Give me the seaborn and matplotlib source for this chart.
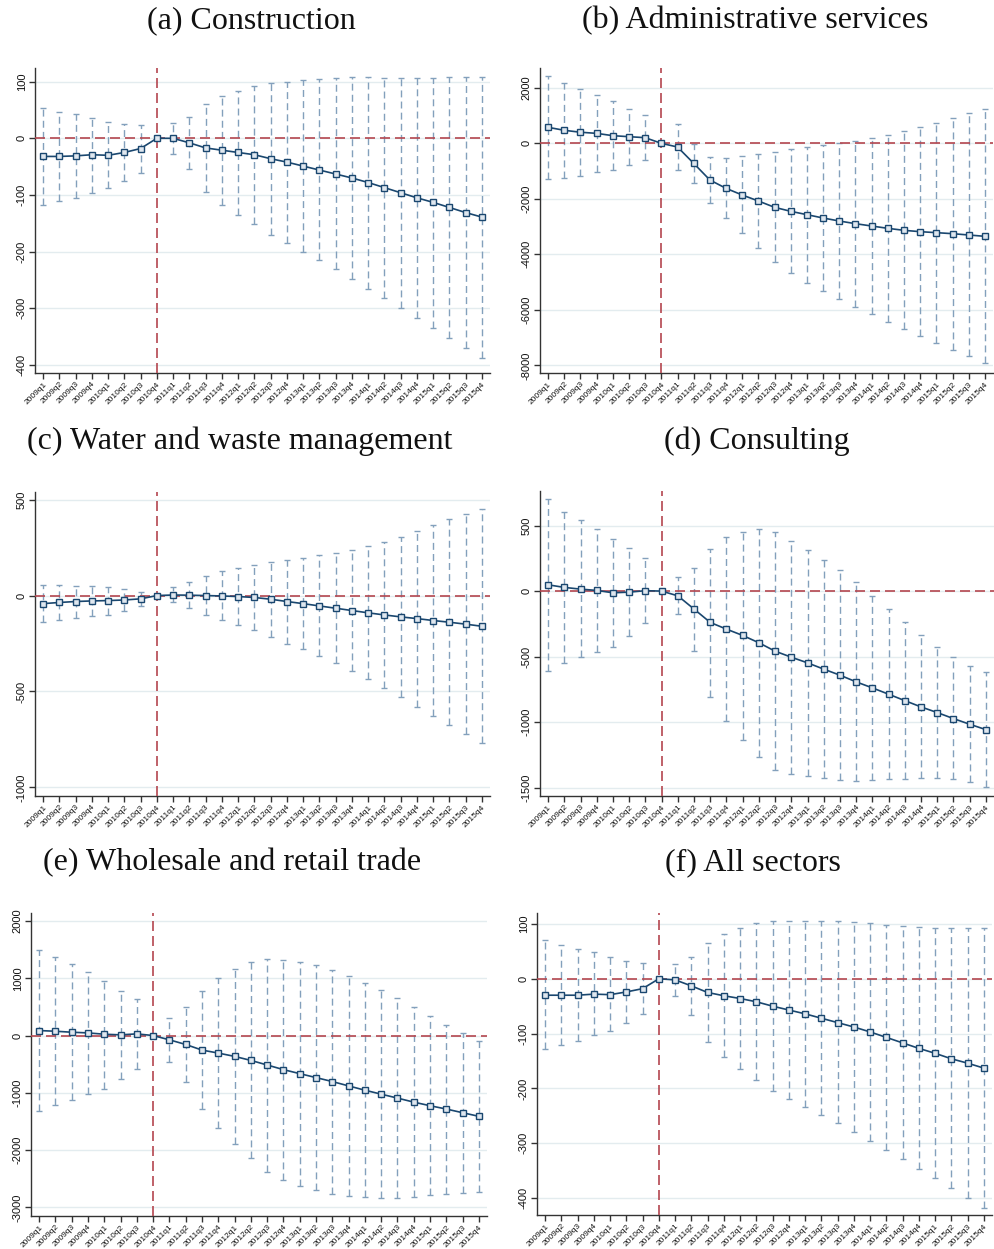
import numpy as np
import pandas as pd
import matplotlib
matplotlib.use("Agg")
import matplotlib.pyplot as plt
import seaborn as sns

quarters = [f"{y}q{q}" for y in range(2009, 2016) for q in range(1, 5)]

# (a) Construction
a_est = [-32, -32, -31, -29, -30, -25, -18, 0, 0, -8, -17, -21, -25, -29, -36, -42, -49, -56, -63, -70, -78, -87, -96, -105, -113, -122, -131, -139]
a_hi = [53, 47, 42, 36, 29, 25, 24, np.nan, 27, 38, 60, 75, 84, 93, 98, 100, 102, 104, 106, 108, 108, 107, 107, 107, 107, 108, 108, 109]
a_lo = [-118, -111, -105, -96, -88, -75, -61, np.nan, -27, -55, -94, -118, -135, -152, -170, -185, -200, -214, -231, -248, -265, -282, -300, -317, -334, -352, -370, -387]

# (b) Administrative services
b_est = [577, 470, 400, 360, 276, 240, 204, 0, -132, -721, -1321, -1622, -1862, -2078, -2306, -2450, -2570, -2691, -2799, -2895, -2979, -3063, -3135, -3183, -3219, -3255, -3303, -3351]
b_hi = [2415, 2175, 1970, 1754, 1513, 1237, 1009, np.nan, 697, -10, -480, -540, -468, -396, -324, -216, -132, -60, 12, 96, 192, 312, 444, 577, 745, 913, 1081, 1237]
b_lo = [-1273, -1237, -1177, -1033, -961, -769, -589, np.nan, -949, -1417, -2150, -2703, -3243, -3784, -4288, -4673, -5021, -5321, -5622, -5898, -6162, -6438, -6703, -6943, -7183, -7435, -7675, -7928]

# (c) Water and waste management
c_est = [-42, -36, -31, -28, -26, -23, -17, 0, 3, 2, 0, -2, -5, -10, -19, -31, -42, -54, -66, -78, -90, -101, -111, -120, -130, -139, -149, -160]
c_hi = [56, 54, 52, 49, 45, 36, 21, np.nan, 45, 69, 102, 127, 144, 160, 177, 188, 198, 210, 224, 238, 257, 281, 306, 339, 368, 398, 425, 451]
c_lo = [-137, -125, -116, -106, -102, -82, -56, np.nan, -36, -64, -102, -125, -153, -181, -215, -250, -281, -316, -354, -394, -436, -481, -530, -580, -627, -677, -724, -771]

# (d) Consulting
d_est = [48, 28, 15, 5, -13, -8, 3, 0, -36, -137, -239, -290, -338, -394, -458, -504, -547, -595, -641, -692, -738, -786, -835, -883, -926, -972, -1015, -1056]
d_hi = [702, 603, 539, 471, 399, 331, 252, np.nan, 107, 178, 323, 410, 450, 476, 450, 384, 316, 239, 158, 66, -36, -135, -234, -333, -425, -506, -570, -618]
d_lo = [-606, -550, -504, -461, -425, -346, -247, np.nan, -178, -455, -804, -990, -1132, -1262, -1364, -1394, -1412, -1427, -1440, -1448, -1438, -1433, -1433, -1425, -1425, -1435, -1458, -1496]

# (e) Wholesale and retail trade
e_est = [87, 75, 58, 46, 23, 12, 29, 0, -75, -156, -254, -306, -364, -434, -514, -595, -665, -734, -803, -879, -954, -1023, -1092, -1162, -1225, -1283, -1347, -1410]
e_hi = [1497, 1364, 1249, 1110, 960, 786, 642, np.nan, 312, 503, 786, 1000, 1162, 1289, 1341, 1324, 1289, 1225, 1145, 1040, 919, 798, 653, 503, 341, 191, 52, -92]
e_lo = [-1312, -1220, -1121, -1017, -925, -757, -584, np.nan, -457, -815, -1289, -1618, -1896, -2145, -2376, -2514, -2618, -2699, -2763, -2798, -2821, -2838, -2844, -2827, -2786, -2763, -2746, -2723]

# (f) All sectors
f_est = [-30, -30, -30, -28, -29, -24, -18, 0, -2, -13, -25, -31, -36, -42, -50, -57, -64, -72, -80, -88, -97, -107, -117, -127, -136, -146, -154, -163]
f_hi = [70, 62, 54, 48, 39, 32, 29, np.nan, 27, 40, 66, 82, 92, 101, 105, 105, 105, 105, 105, 103, 101, 98, 96, 94, 92, 92, 92, 92]
f_lo = [-128, -121, -113, -103, -95, -80, -64, np.nan, -31, -66, -115, -143, -164, -185, -205, -219, -234, -248, -264, -280, -296, -313, -329, -347, -364, -382, -400, -418]

titles = ["(a) Construction", "(b) Administrative services", "(c) Water and waste management",
          "(d) Consulting", "(e) Wholesale and retail trade", "(f) All sectors"]
yticks_list = [[-400, -300, -200, -100, 0, 100],
               [-8000, -6000, -4000, -2000, 0, 2000],
               [-1000, -500, 0, 500],
               [-1500, -1000, -500, 0, 500],
               [-3000, -2000, -1000, 0, 1000, 2000],
               [-400, -300, -200, -100, 0, 100]]
ylims = [(-414, 124), (-8276, 2715), (-1045, 540), (-1562, 763), (-3150, 2139), (-431, 120)]

series = [(a_est, a_lo, a_hi), (b_est, b_lo, b_hi), (c_est, c_lo, c_hi),
          (d_est, d_lo, d_hi), (e_est, e_lo, e_hi), (f_est, f_lo, f_hi)]

# axes boxes in pixels: left, right, top, bottom
boxes = [(35, 490, 68, 373), (540, 993, 68, 373),
         (35, 490, 492, 796), (540, 994, 491, 796),
         (31, 487, 913, 1216), (537, 992, 913, 1215)]
title_pos = [(251, 21), (755, 21), (240, 441), (757, 441), (232, 863), (753, 863)]

W, H = 995, 1249
sns.set_theme(style="white")
plt.rcParams["font.family"] = ["Liberation Sans", "DejaVu Sans"]

fig = plt.figure(figsize=(W / 100, H / 100), dpi=100)
navy = "#1a476f"
ci_col = "#83a0bc"
red = "#b4464f"
grid_col = "#e3ecef"

for i, (est, lo, hi) in enumerate(series):
    l, r, t, b = boxes[i]
    ax = fig.add_axes([l / W, 1 - b / H, (r - l) / W, (b - t) / H])
    df = pd.DataFrame({"pos": np.arange(len(quarters)), "quarter": quarters,
                       "est": est, "lo": lo, "hi": hi})
    ax.set_ylim(*ylims[i])
    ax.set_xlim(-0.5, 27.5)
    ax.set_yticks(yticks_list[i])
    for yv in yticks_list[i]:
        ax.axhline(yv, color=grid_col, lw=1, zorder=0)
    ci = df.dropna()
    eb = ax.errorbar(ci["pos"], ci["est"], yerr=[ci["est"] - ci["lo"], ci["hi"] - ci["est"]],
                     fmt="none", ecolor=ci_col, elinewidth=1.0, capsize=2.5, capthick=1.0, zorder=2)
    eb[2][0].set_linestyle((0, (5, 3)))
    ax.axhline(0, color=red, lw=1.2, ls=(0, (6, 3)), zorder=3)
    ax.axvline(7, color=red, lw=1.2, ls=(0, (6, 3)), zorder=3)
    sns.lineplot(data=df, x="pos", y="est", ax=ax, color=navy, lw=1.2, marker="s",
                 markersize=4, markerfacecolor="#dfe7ef", markeredgecolor=navy,
                 markeredgewidth=1.0, zorder=4)
    ax.set_xticks(df["pos"])
    ax.set_xticklabels(quarters, rotation=45, ha="right", rotation_mode="anchor", fontsize=6)
    ax.set_yticklabels([str(v) for v in yticks_list[i]], rotation=90, va="center", fontsize=8)
    ax.tick_params(axis="both", which="major", direction="out", length=4, width=1,
                   color="#333333", labelcolor="#111111", left=True, bottom=True, pad=2)
    ax.tick_params(axis="x", pad=1.5)
    ax.set_xlabel("")
    ax.set_ylabel("")
    for s in ["top", "right"]:
        ax.spines[s].set_visible(False)
    for s in ["left", "bottom"]:
        ax.spines[s].set_color("#333333")
        ax.spines[s].set_linewidth(1.0)
    tx, ty = title_pos[i]
    fig.text(tx / W, 1 - ty / H, titles[i], ha="center", va="center",
             fontsize=23, family=["Liberation Serif", "DejaVu Serif"], color="#111111")

fig.savefig("out.png", dpi=100, facecolor="white")
